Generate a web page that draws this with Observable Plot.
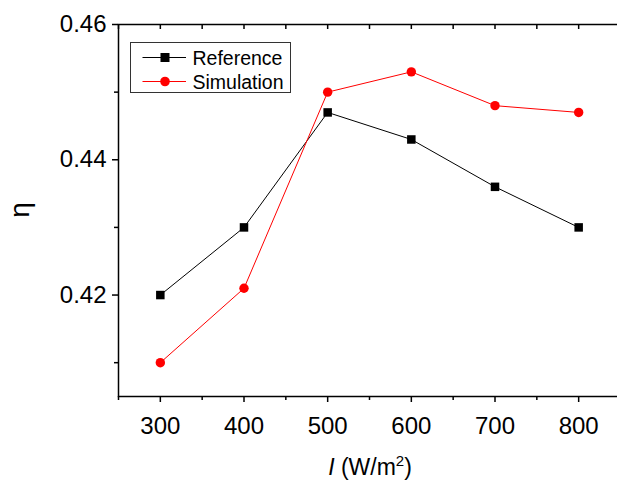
<!DOCTYPE html>
<html><head><meta charset="utf-8">
<script src="https://cdn.jsdelivr.net/npm/d3@7"></script>
<script src="https://cdn.jsdelivr.net/npm/@observablehq/plot@0.6"></script>
<style>body{margin:0;background:#fff;} #chart svg{display:block;}</style>
</head><body><div id="chart"></div>
<script>
const irradiance = [300, 400, 500, 600, 700, 800];
const referenceEta = [0.420, 0.430, 0.447, 0.443, 0.436, 0.430];
const simulationEta = [0.410, 0.421, 0.450, 0.453, 0.448, 0.447];
const seriesNames = ["Reference", "Simulation"];
const seriesColors = ["#000000", "#ff0000"];
const xMajorTicks = [300, 400, 500, 600, 700, 800];
const xMinorTicks = [250, 350, 450, 550, 650, 750, 850];
const yMajorTicks = [0.42, 0.44, 0.46];
const yMinorTicks = [0.41, 0.43, 0.45];

const refData = irradiance.map((x, i) => ({x, y: referenceEta[i]}));
const simData = irradiance.map((x, i) => ({x, y: simulationEta[i]}));
const FONT = "'Liberation Sans', Arial, sans-serif";

const svg = Plot.plot({
  width: 617, height: 483,
  marginLeft: 118, marginRight: -3, marginTop: 24, marginBottom: 87,
  style: {fontFamily: FONT, background: "#fff", overflow: "hidden"},
  x: {domain: [250, 850]},
  y: {domain: [0.405, 0.46]},
  marks: [
    Plot.axisY(yMajorTicks, {tickSize: 6, tickPadding: 6, fontSize: 24, tickFormat: d3.format(".2f"), label: null, strokeWidth: 1.5}),
    Plot.axisY(yMinorTicks, {tickSize: 4, text: null, label: null, strokeWidth: 1.5}),
    Plot.axisX(xMajorTicks, {tickSize: 6, tickPadding: 14, fontSize: 24, tickFormat: d => String(d), label: null, strokeWidth: 1.5}),
    Plot.axisX(xMinorTicks, {tickSize: 4, text: null, label: null, strokeWidth: 1.5}),
    Plot.axisX(xMajorTicks.concat(xMinorTicks), {anchor: "top", tickSize: -4, text: null, label: null, strokeWidth: 1.5}),
    Plot.frame({stroke: "#000", strokeWidth: 1.5}),
    Plot.line(refData, {x: "x", y: "y", stroke: seriesColors[0], strokeWidth: 1}),
    Plot.line(simData, {x: "x", y: "y", stroke: seriesColors[1], strokeWidth: 1}),
    Plot.dot(refData, {x: "x", y: "y", symbol: "square", r: 4.8, fill: seriesColors[0], stroke: "none"}),
    Plot.dot(simData, {x: "x", y: "y", symbol: "circle", r: 4.7, fill: seriesColors[1], stroke: "none"})
  ]
});

const s = d3.select(svg);
// y label
s.append("text").attr("transform", "translate(29,210) rotate(-90)")
  .attr("text-anchor", "middle").attr("font-size", 28).attr("font-family", FONT).attr("fill", "#000").text("η");
// x label
const xl = s.append("text").attr("x", 370).attr("y", 475).attr("text-anchor", "middle")
  .attr("font-size", 23).attr("font-family", FONT).attr("fill", "#000");
xl.append("tspan").attr("font-style", "italic").text("I");
xl.append("tspan").text(" (W/m");
xl.append("tspan").attr("font-size", 15).attr("dy", -9).text("2");
xl.append("tspan").attr("dy", 9).text(")");
// legend
const lg = s.append("g");
lg.append("rect").attr("x", 130.5).attr("y", 42.5).attr("width", 160).attr("height", 50)
  .attr("fill", "#fff").attr("stroke", "#333").attr("stroke-width", 1);
seriesNames.forEach((name, i) => {
  const cy = 57.5 + i * 24;
  lg.append("line").attr("x1", 142.5).attr("x2", 186).attr("y1", cy).attr("y2", cy)
    .attr("stroke", seriesColors[i]).attr("stroke-width", 1);
  if (i === 0) lg.append("rect").attr("x", 160.5).attr("y", cy - 4.5).attr("width", 9).attr("height", 9).attr("fill", seriesColors[i]);
  else lg.append("circle").attr("cx", 165).attr("cy", cy).attr("r", 4.8).attr("fill", seriesColors[i]);
  lg.append("text").attr("x", 192.5).attr("y", cy + 7).attr("text-anchor", "start").attr("font-size", 19.5).attr("font-family", FONT)
    .attr("fill", "#000").text(name);
});
document.getElementById("chart").appendChild(svg);
</script>
</body></html>
